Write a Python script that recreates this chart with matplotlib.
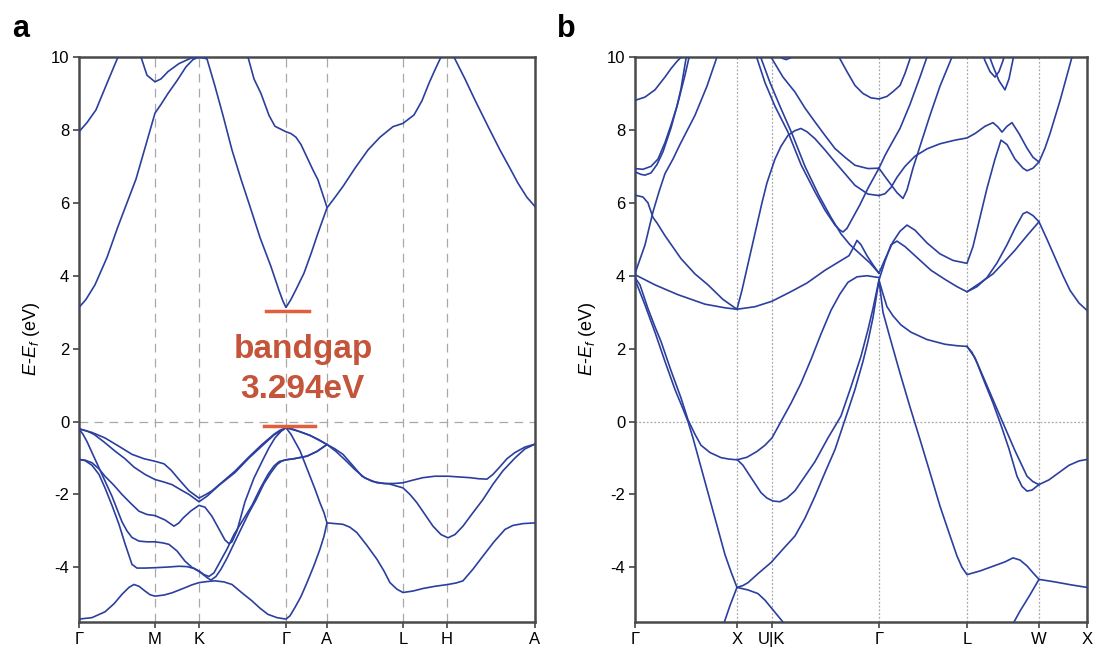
import matplotlib
matplotlib.use("Agg")
import matplotlib.pyplot as plt

plt.rcParams['font.family'] = ['Liberation Sans', 'DejaVu Sans']
plt.rcParams['mathtext.fontset'] = 'custom'
plt.rcParams['mathtext.it'] = 'Liberation Sans:italic'
plt.rcParams['mathtext.rm'] = 'Liberation Sans'

BAND = '#2b3f9e'
GAP = '#e0603c'

# ---- panel a : k-path and bands (k distance, E - Ef in eV) ----
a_kticks = [0, 76, 120, 207, 248, 324, 368, 456]
a_klabels = ['Γ', 'M', 'K', 'Γ', 'A', 'L', 'H', 'A']

a_c1 = [(0, 3.13), (7, 3.35), (16, 3.75), (28, 4.5), (39, 5.35), (48, 6.0), (57, 6.65), (67, 7.6),
        (76, 8.46), (82, 8.7), (89, 9.0), (98, 9.35), (107, 9.73), (114, 9.93), (120, 10.0), (128, 9.95),
        (136, 9.2), (144, 8.4), (153, 7.45), (162, 6.65), (171, 5.9), (181, 5.05), (192, 4.25), (200, 3.6),
        (204, 3.3), (207, 3.13), (212, 3.35), (217, 3.62), (225, 4.07), (232, 4.6), (239, 5.17), (248, 5.86),
        (256, 6.15), (264, 6.45), (276, 6.95), (289, 7.45), (301, 7.8), (314, 8.09), (324, 8.18), (335, 8.41),
        (343, 8.8), (350, 9.28), (356, 9.65), (362, 10.0), (368, 10.15), (375, 10.0), (386, 9.4), (396, 8.82),
        (409, 8.1), (421, 7.45), (431, 6.95), (439, 6.54), (448, 6.15), (456, 5.9)]
a_c2 = [(0, 7.95), (8, 8.2), (17, 8.55), (28, 9.28), (39, 10.0), (45, 10.3), (52, 10.35), (58, 10.1),
        (62, 10.0), (68, 9.5), (76, 9.32), (82, 9.4), (89, 9.6), (100, 9.82), (112, 9.97), (120, 10.0),
        (135, 10.5), (150, 10.5), (169, 10.0), (175, 9.4), (182, 9.0), (190, 8.4), (196, 8.1), (207, 7.95),
        (212, 7.9), (217, 7.8), (222, 7.6), (228, 7.25), (234, 6.9), (239, 6.63), (248, 5.88)]
a_v1 = [(0, -0.2), (13, -0.3), (26, -0.45), (40, -0.68), (53, -0.9), (65, -1.02), (76, -1.09), (85, -1.16),
        (92, -1.33), (100, -1.59), (110, -1.9), (120, -2.1), (127, -2.0), (133, -1.9), (145, -1.62),
        (156, -1.36), (170, -0.97), (183, -0.63), (195, -0.35), (201, -0.24), (207, -0.17), (214, -0.21),
        (220, -0.27), (231, -0.38), (240, -0.5), (248, -0.63), (256, -0.75), (264, -0.9), (272, -1.15),
        (283, -1.5), (293, -1.64), (305, -1.7), (315, -1.7), (324, -1.68), (335, -1.6), (344, -1.54),
        (356, -1.5), (369, -1.5), (380, -1.52), (391, -1.54), (400, -1.57), (408, -1.58), (414, -1.45),
        (420, -1.27), (428, -1.02), (436, -0.85), (446, -0.7), (456, -0.62)]
a_v2 = [(0, -0.2), (8, -0.26), (15, -0.35), (25, -0.56), (36, -0.81), (46, -1.02), (55, -1.25), (66, -1.45),
        (76, -1.59), (85, -1.66), (93, -1.73), (101, -1.86), (110, -2.0), (120, -2.2), (128, -2.05),
        (140, -1.75), (156, -1.4), (170, -1.0), (183, -0.67), (195, -0.37), (207, -0.17), (220, -0.27),
        (231, -0.38), (248, -0.63), (257, -0.82), (266, -1.05), (276, -1.32), (286, -1.55), (298, -1.68),
        (310, -1.71), (324, -1.82), (331, -2.0), (338, -2.23), (346, -2.55), (354, -2.87), (362, -3.1),
        (369, -3.19), (376, -3.1), (384, -2.87), (394, -2.5), (404, -2.14), (414, -1.72), (424, -1.35),
        (436, -1.0), (446, -0.75), (456, -0.62)]
a_v3 = [(0, -0.2), (4, -0.35), (8, -0.55), (13, -0.85), (18, -1.15), (23, -1.45), (28, -1.75), (33, -2.05),
        (38, -2.4), (43, -2.75), (48, -3.0), (53, -3.18), (60, -3.28), (68, -3.3), (76, -3.3), (84, -3.33),
        (90, -3.37), (98, -3.55), (106, -3.83), (113, -4.0), (120, -4.1), (125, -4.2), (130, -4.25),
        (135, -4.15), (140, -3.9), (148, -3.5), (155, -3.1), (164, -2.7), (173, -2.3), (181, -1.85),
        (189, -1.45), (195, -1.22), (200, -1.1), (207, -1.05), (215, -1.02), (228, -0.95), (238, -0.82),
        (248, -0.63)]
a_v4 = [(0, -1.04), (6, -1.06), (13, -1.13), (20, -1.3), (26, -1.5), (35, -1.75), (43, -2.0), (52, -2.25),
        (60, -2.46), (68, -2.55), (76, -2.58), (86, -2.7), (95, -2.87), (100, -2.78), (104, -2.65),
        (112, -2.45), (120, -2.3), (126, -2.35), (133, -2.6), (140, -2.95), (146, -3.25), (150, -3.35),
        (153, -3.3), (158, -3.0), (166, -2.2), (175, -1.55), (183, -1.1), (190, -0.72), (196, -0.45),
        (202, -0.27), (207, -0.17), (212, -0.35), (217, -0.6), (221, -0.8), (226, -1.15), (231, -1.5),
        (236, -1.85), (241, -2.23), (245, -2.5), (248, -2.78), (256, -2.8), (264, -2.82), (271, -2.9),
        (278, -3.05), (288, -3.4), (298, -3.78), (305, -4.1), (311, -4.42), (318, -4.6), (324, -4.69),
        (334, -4.65), (344, -4.58), (356, -4.52), (369, -4.47), (377, -4.43), (384, -4.37), (394, -4.05),
        (404, -3.69), (415, -3.3), (426, -2.96), (434, -2.85), (444, -2.8), (456, -2.78)]
a_v5 = [(0, -1.04), (6, -1.07), (13, -1.2), (20, -1.45), (26, -1.82), (33, -2.3), (40, -2.82), (46, -3.35),
        (53, -3.92), (58, -4.02), (66, -4.02), (76, -4.01), (90, -3.99), (100, -3.97), (108, -3.98),
        (115, -4.03), (122, -4.15), (128, -4.28), (132, -4.35), (137, -4.25), (142, -4.05), (148, -3.75),
        (155, -3.35), (162, -2.95), (170, -2.5), (177, -2.15), (185, -1.7), (192, -1.4), (198, -1.18),
        (203, -1.08), (207, -1.05), (215, -1.02), (228, -0.95), (238, -0.82), (248, -0.63)]
a_v6 = [(0, -5.42), (13, -5.38), (26, -5.22), (35, -5.0), (43, -4.74), (50, -4.55), (55, -4.47), (60, -4.52),
        (66, -4.65), (71, -4.75), (76, -4.79), (85, -4.76), (93, -4.7), (105, -4.57), (113, -4.48),
        (120, -4.42), (128, -4.39), (136, -4.37), (145, -4.4), (153, -4.47), (163, -4.7), (173, -4.92),
        (181, -5.12), (189, -5.29), (198, -5.38), (207, -5.42), (211, -5.33), (216, -5.1), (222, -4.8),
        (228, -4.42), (235, -3.95), (241, -3.5), (245, -3.15), (248, -2.78)]
a_bands = [a_c1, a_c2, a_v1, a_v2, a_v3, a_v4, a_v5, a_v6]

# bandgap markers (k range, energy)
gap_cbm = (187, 230, 3.02)
gap_vbm = (185, 236, -0.11)
gap_text = ['bandgap', '3.294eV']

# ---- panel b ----
b_kticks = [0, 102, 137, 244, 332, 404, 452]
b_klabels = ['Γ', 'X', 'U|K', 'Γ', 'L', 'W', 'X']

b_p = [(0, 3.95), (5, 3.75), (13, 3.1), (20, 2.6), (26, 2.2), (36, 1.4), (46, 0.65), (53, 0.05), (60, -0.35),
       (66, -0.65), (75, -0.85), (86, -0.99), (94, -1.03), (102, -1.05), (112, -0.98), (122, -0.82),
       (130, -0.65), (137, -0.45), (146, 0.0), (156, 0.5), (166, 1.05), (176, 1.7), (186, 2.4), (196, 3.05),
       (205, 3.5), (213, 3.82), (222, 3.97), (232, 4.0), (244, 3.95)]
b_q = [(0, 3.9), (10, 3.2), (20, 2.45), (30, 1.65), (40, 0.88), (48, 0.35), (53, 0.0), (58, -0.45), (63, -0.95),
       (68, -1.45), (73, -1.95), (78, -2.45), (84, -3.05), (90, -3.65), (96, -4.12), (102, -4.55)]
b_r = [(102, -1.04), (108, -1.2), (113, -1.41), (120, -1.7), (126, -1.95), (132, -2.1), (138, -2.18),
       (145, -2.2), (152, -2.1), (160, -1.9), (170, -1.5), (180, -1.1), (193, -0.45), (206, 0.15), (216, 0.95),
       (226, 1.79), (233, 2.52), (238, 3.1), (244, 3.88)]
b_s = [(102, -4.55), (108, -4.5), (113, -4.42), (124, -4.15), (136, -3.87), (148, -3.5), (160, -3.14),
       (170, -2.65), (180, -2.05), (190, -1.4), (200, -0.77), (210, 0.05), (220, 0.88), (228, 1.65),
       (233, 2.2), (238, 2.85), (244, 3.88)]
b_t = [(102, -4.55), (113, -4.62), (123, -4.72), (130, -4.9), (136, -5.1), (142, -5.3), (148, -5.5), (150, -5.6)]
b_b0 = [(88, -5.6), (90, -5.45), (95, -5.05), (102, -4.55)]
b_u1 = [(0, 4.03), (20, 3.75), (43, 3.48), (70, 3.22), (90, 3.12), (102, 3.08), (120, 3.15), (137, 3.3),
        (155, 3.55), (172, 3.8), (190, 4.15), (205, 4.4), (214, 4.55), (219, 4.8), (222, 4.97), (226, 4.85),
        (232, 4.55), (238, 4.3), (244, 4.07)]
b_v1 = [(0, 8.81), (10, 8.9), (20, 9.1), (30, 9.45), (36, 9.68), (42, 9.88), (50, 10.1)]
b_v2 = [(0, 6.94), (8, 6.92), (16, 7.0), (23, 7.2), (30, 7.65), (36, 8.13), (42, 8.65), (46, 9.13), (51, 9.95),
        (53, 10.2)]
b_v3 = [(0, 6.85), (6, 6.78), (10, 6.76), (16, 6.82), (22, 7.05), (28, 7.4), (36, 8.05), (44, 8.85), (50, 9.5),
        (55, 10.1)]
b_v4 = [(0, 6.21), (8, 6.16), (13, 6.0), (18, 5.6), (22, 5.45), (30, 5.1), (46, 4.47), (60, 4.05), (73, 3.75),
        (88, 3.35), (102, 3.08)]
b_v5 = [(0, 4.06), (5, 4.45), (10, 4.84), (18, 5.75), (24, 6.3), (30, 6.8), (38, 7.2), (45, 7.6), (60, 8.4),
        (72, 9.2), (82, 10.0), (84, 10.2)]
b_h1 = [(102, 3.08), (107, 3.6), (112, 4.2), (117, 4.8), (122, 5.4), (127, 6.0), (132, 6.55), (140, 7.2),
        (146, 7.55), (153, 7.85), (160, 7.98), (166, 8.04), (172, 7.95), (180, 7.76), (190, 7.45), (200, 7.12),
        (210, 6.8), (220, 6.48), (233, 6.24), (244, 6.2)]
b_h2 = [(121, 10.05), (130, 9.3), (140, 8.65), (153, 7.94), (166, 7.05), (180, 6.3), (190, 5.8), (200, 5.39),
        (205, 5.25), (208, 5.2), (212, 5.3), (218, 5.6), (225, 5.95), (233, 6.4), (244, 6.95)]
b_h2b = [(125, 10.05), (135, 9.3), (145, 8.65), (157, 7.9), (170, 7.0), (184, 6.2), (196, 5.6), (206, 5.15),
         (215, 4.85), (225, 4.6), (235, 4.35), (244, 4.07)]
b_h4 = [(136, 10.0), (148, 9.45), (160, 9.04), (170, 8.6), (180, 8.22), (190, 7.85), (200, 7.49), (210, 7.25),
        (220, 7.03), (233, 6.94), (244, 6.95)]
b_h5 = [(203, 10.05), (212, 9.6), (220, 9.22), (228, 9.0), (236, 8.88), (244, 8.85), (252, 8.92), (258, 9.05),
        (265, 9.22), (270, 9.55), (275, 9.95), (278, 10.2)]
b_t0 = [(143, 10.1), (147, 9.97), (151, 9.93), (155, 9.97), (159, 10.1)]
b_r1 = [(244, 6.95), (250, 7.3), (255, 7.55), (265, 8.04), (275, 8.7), (285, 9.45), (292, 10.0), (294, 10.2)]
b_r3 = [(244, 6.95), (250, 6.72), (256, 6.5), (262, 6.28), (268, 6.12), (272, 6.35), (278, 6.95), (285, 7.55),
        (295, 8.4), (305, 9.2), (317, 10.0), (320, 10.2)]
b_r2 = [(244, 6.2), (250, 6.25), (256, 6.42), (262, 6.7), (270, 7.0), (280, 7.28), (292, 7.48), (305, 7.62),
        (320, 7.72), (332, 7.78), (340, 7.9), (350, 8.1), (358, 8.2), (363, 8.08), (367, 7.94), (372, 8.1),
        (377, 8.2), (384, 7.9), (392, 7.5), (398, 7.25), (404, 7.12), (410, 7.5), (415, 7.9), (425, 8.8),
        (435, 9.8), (438, 10.1)]
b_r5 = [(244, 4.07), (250, 4.45), (258, 4.93), (265, 5.22), (272, 5.39), (280, 5.25), (292, 4.9), (305, 4.6),
        (318, 4.42), (332, 4.34), (338, 4.8), (345, 5.6), (352, 6.4), (360, 7.2), (366, 7.72), (372, 7.6),
        (380, 7.2), (388, 6.95), (392, 6.88), (398, 6.95), (404, 7.12)]
b_r6a = [(244, 3.88), (250, 4.4), (256, 4.85), (262, 4.95), (270, 4.8), (282, 4.5), (296, 4.15), (310, 3.9),
         (322, 3.7), (332, 3.56), (342, 3.7), (352, 3.95), (362, 4.35), (372, 4.85), (380, 5.3), (388, 5.7),
         (392, 5.75), (398, 5.65), (404, 5.48), (412, 5.0), (420, 4.5), (428, 4.0), (435, 3.6), (444, 3.25),
         (452, 3.05)]
b_r6b = [(332, 3.56), (345, 3.8), (358, 4.05), (370, 4.4), (380, 4.7), (392, 5.1), (404, 5.48)]
b_gl = [(244, 3.88), (248, 3.5), (252, 3.15), (258, 2.9), (266, 2.65), (276, 2.45), (292, 2.25), (310, 2.12),
        (322, 2.08), (332, 2.06)]
b_la = [(332, 2.06), (340, 1.75), (348, 1.24), (358, 0.6), (368, -0.04), (380, -0.8), (392, -1.5), (398, -1.65),
        (404, -1.73)]
b_lb = [(332, 2.06), (337, 1.9), (342, 1.61), (350, 1.05), (358, 0.51), (366, -0.1), (374, -0.75), (382, -1.5),
        (387, -1.78), (392, -1.91), (397, -1.88), (404, -1.73)]
b_wx = [(404, -1.73), (414, -1.6), (424, -1.4), (434, -1.2), (444, -1.08), (452, -1.04)]
b_gsteep = [(244, 3.88), (248, 3.0), (255, 2.3), (265, 1.33), (275, 0.4), (285, -0.49), (295, -1.4),
            (305, -2.32), (314, -3.05), (322, -3.69), (327, -4.0), (332, -4.2), (345, -4.1), (358, -3.97),
            (370, -3.85), (378, -3.74), (385, -3.8), (392, -3.96), (398, -4.15), (404, -4.33), (420, -4.4),
            (436, -4.48), (452, -4.55)]
b_wb = [(377, -5.6), (385, -5.2), (394, -4.8), (404, -4.33)]
b_tp1 = [(346, 10.2), (350, 9.9), (355, 9.6), (360, 9.45), (364, 9.6), (368, 9.9), (371, 10.2)]
b_tp2 = [(352, 10.2), (358, 9.75), (364, 9.35), (370, 9.1), (374, 9.4), (377, 9.8), (380, 10.2)]
b_bands = [b_p, b_q, b_r, b_s, b_t, b_b0, b_u1, b_v1, b_v2, b_v3, b_v4, b_v5, b_h1, b_h2, b_h2b, b_h4,
           b_h5, b_t0, b_r1, b_r3, b_r2, b_r5, b_r6a, b_r6b, b_gl, b_la, b_lb, b_wx, b_gsteep, b_wb,
           b_tp1, b_tp2]

yticks = [-4, -2, 0, 2, 4, 6, 8, 10]


def style_axes(ax, kticks, klabels, gridstyle):
    for k in kticks[1:-1]:
        ax.axvline(k, color='#a8a8a8', lw=0.9, **gridstyle, zorder=1)
    ax.axhline(0, color='#a8a8a8', lw=0.9, **gridstyle, zorder=1)
    ax.set_xlim(kticks[0], kticks[-1])
    ax.set_ylim(-5.5, 10)
    ax.set_xticks(kticks)
    ax.set_xticklabels(klabels, fontsize=12)
    ax.set_yticks(yticks)
    ax.set_yticklabels([str(v).replace('-', '\u2212') if False else str(v) for v in yticks], fontsize=12)
    ax.tick_params(direction='out', length=4, width=1.2, color='#444444', pad=3)
    for sp in ax.spines.values():
        sp.set_color('#4a4a4a')
        sp.set_linewidth(1.8)
    ax.set_ylabel('$E$-$E_f$ (eV)', fontsize=13, labelpad=6)


fig = plt.figure(figsize=(10.94, 6.54), dpi=100)
ax_a = fig.add_axes([0.0722, 0.0489, 0.4168, 0.8639])
ax_b = fig.add_axes([0.5804, 0.0489, 0.4132, 0.8639])

for band in a_bands:
    ks = [p[0] for p in band]
    es = [p[1] for p in band]
    ax_a.plot(ks, es, color=BAND, lw=1.2, zorder=3)
style_axes(ax_a, a_kticks, a_klabels, dict(ls=(0, (7, 5))))

ax_a.plot(gap_cbm[:2], [gap_cbm[2]] * 2, color=GAP, lw=2.5, zorder=4)
ax_a.plot(gap_vbm[:2], [gap_vbm[2]] * 2, color=GAP, lw=2.5, zorder=4)
ax_a.text(224, 1.97, gap_text[0], color='#c4543a', fontsize=24, fontweight='bold',
          ha='center', va='center', zorder=5)
ax_a.text(223, 0.88, gap_text[1], color='#c4543a', fontsize=24, fontweight='bold',
          ha='center', va='center', zorder=5)

for band in b_bands:
    ks = [p[0] for p in band]
    es = [p[1] for p in band]
    ax_b.plot(ks, es, color=BAND, lw=1.2, zorder=3)
style_axes(ax_b, b_kticks, b_klabels, dict(ls=(0, (1.5, 1.5))))

fig.text(0.011, 0.955, 'a', fontsize=22, fontweight='bold', va='center')
fig.text(0.509, 0.955, 'b', fontsize=22, fontweight='bold', va='center')

fig.savefig('out.png', dpi=100)
